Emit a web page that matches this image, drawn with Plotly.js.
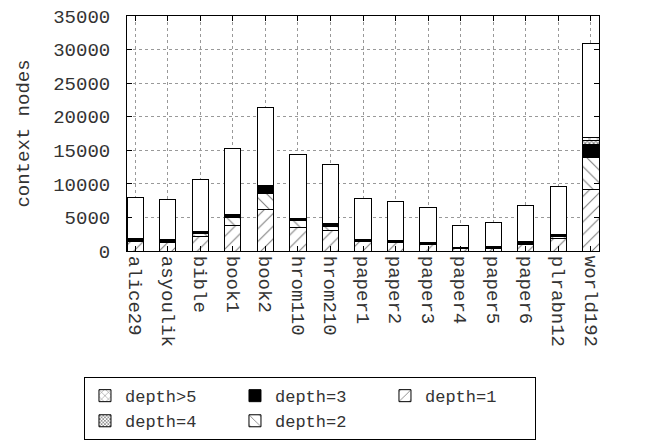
<!DOCTYPE html>
<html>
<head>
<meta charset="utf-8">
<script src="https://cdn.plot.ly/plotly-3.0.1.min.js"></script>
<style>html,body{margin:0;padding:0;background:#fff;}#chart{width:646px;height:441px;}</style>
</head>
<body>
<div id="chart"></div>
<script>
const categories = ['alice29','asyoulik','bible','book1','book2','hrom110','hrom210','paper1','paper2','paper3','paper4','paper5','paper6','plrabn12','world192'];
const totalNodes = [8000, 7600, 10600, 15200, 21400, 14300, 12900, 7800, 7300, 6550, 3870, 4200, 6850, 9680, 30900];
const depth1 =   [1400, 1300, 2130, 3870, 6200, 3530, 3030, 1350, 1200, 1000, 300, 400, 1000, 1900, 9230];
const depth2 =   [150, 150, 510, 1150, 2400, 940, 690, 150, 150, 100, 50, 80, 150, 300, 4670];
const depth3 =   [200, 200, 160, 300, 900, 300, 300, 200, 200, 150, 100, 100, 200, 250, 2000];
const depth4 =   [40, 40, 30, 40, 150, 40, 40, 30, 30, 20, 10, 10, 30, 40, 600];
const depthGT5 = [30, 30, 20, 30, 100, 30, 30, 20, 20, 10, 10, 10, 20, 30, 400];
const yTicks = [0, 5000, 10000, 15000, 20000, 25000, 30000, 35000];

const rest = totalNodes.map((t, i) => t - depth1[i] - depth2[i] - depth3[i] - depth4[i] - depthGT5[i]);

const FONT = 'Liberation Mono, Courier New, monospace';
const line = {color: '#000', width: 1};

function bar(name, y, marker, rank, show) {
  return {
    type: 'bar', name: name, x: categories, y: y, width: 0.5,
    marker: Object.assign({line: line}, marker),
    legendrank: rank, showlegend: show !== false, hoverinfo: 'x+y+name'
  };
}

const traces = [
  bar('depth=1', depth1, {color: '#fff', pattern: {shape: '/', fgcolor: '#000', bgcolor: '#fff', size: 9, solidity: 0.12, fillmode: 'overlay'}}, 3),
  bar('depth=2', depth2, {color: '#fff', pattern: {shape: '\\', fgcolor: '#000', bgcolor: '#fff', size: 9, solidity: 0.12, fillmode: 'overlay'}}, 5),
  bar('depth=3', depth3, {color: '#000'}, 2),
  bar('depth=4', depth4, {color: '#fff', pattern: {shape: 'x', fgcolor: '#000', bgcolor: '#fff', size: 3, solidity: 0.5, fillmode: 'overlay'}}, 4),
  bar('depth>5', depthGT5, {color: '#fff', pattern: {shape: 'x', fgcolor: '#000', bgcolor: '#fff', size: 6, solidity: 0.2, fillmode: 'overlay'}}, 1),
  bar('other', rest, {color: '#fff'}, 6, false)
];

const layout = {
  width: 646, height: 441,
  margin: {l: 127, r: 47, t: 16, b: 190},
  paper_bgcolor: '#fff', plot_bgcolor: '#fff',
  barmode: 'stack',
  font: {family: FONT, size: 19, color: '#333'},
  xaxis: {
    type: 'category', range: [-0.25, 14.25], automargin: false,
    tickangle: 90, ticks: 'inside', ticklen: 5, tickcolor: '#000',
    showline: true, linecolor: '#000', linewidth: 1, mirror: 'allticks',
    showgrid: true, gridcolor: '#999', griddash: 'dot', gridwidth: 1,
    tickfont: {family: FONT, size: 19, color: '#333'}
  },
  yaxis: {
    range: [0, 35000], tickvals: yTicks, ticktext: yTicks.map(String), automargin: false,
    ticks: 'inside', ticklen: 5, tickcolor: '#000',
    showline: true, linecolor: '#000', linewidth: 1, mirror: 'allticks',
    showgrid: true, gridcolor: '#999', griddash: 'dot', gridwidth: 1,
    zeroline: false, ticklabelstandoff: 12,
    tickfont: {family: FONT, size: 19, color: '#333'},
    title: {text: 'context nodes', font: {family: FONT, size: 19, color: '#333'}, standoff: 18}
  },
  showlegend: true,
  legend: {
    orientation: 'h', xref: 'container', yref: 'container',
    x: 0.13, xanchor: 'left', y: 0.002, yanchor: 'bottom',
    bordercolor: '#000', borderwidth: 1, bgcolor: '#fff',
    entrywidth: 105, entrywidthmode: 'pixels', traceorder: 'normal',
    font: {family: FONT, size: 17, color: '#333'}, itemwidth: 30, tracegroupgap: 0
  }
};

Plotly.newPlot('chart', traces, layout, {staticPlot: true, displayModeBar: false});
</script>
</body>
</html>
